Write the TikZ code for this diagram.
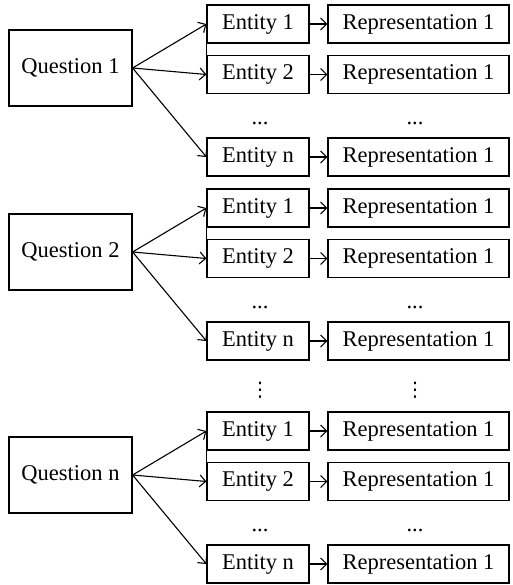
\documentclass[tikz,border=0pt]{standalone}
\usepackage{fontspec}
\setmainfont{Liberation Serif}
\newfontfamily\dvfont{DejaVu Sans}
\usetikzlibrary{arrows.meta}
\begin{document}
\begin{tikzpicture}[x=1pt,y=-1pt,
  every node/.style={font=\fontsize{22.5}{27}\selectfont, inner sep=0pt},
  box/.style={draw, line width=1.2pt, fill=white},
  qbox/.style={box, minimum width=123pt, minimum height=76pt},
  ebox/.style={box, minimum width=102pt, minimum height=38pt},
  rbox/.style={box, minimum width=181pt, minimum height=38pt},
  arr/.style={line width=1.1pt, -{Straight Barb[length=6pt,width=12pt]}},
  link/.style={line width=1.1pt},
  vdot/.style={font=\dvfont\fontsize{20}{20}\selectfont}]
\useasboundingbox (0,0) rectangle (512,585);
\foreach \g/\o/\lab in {1/0/1, 2/184/2, 3/407/n}{
  \node[qbox] (q\g) at (70.5,68+\o) {Question \lab};
  \node[ebox] (e\g a) at (258,24+\o) {Entity 1};
  \node[ebox] (e\g b) at (258,74.5+\o) {Entity 2};
  \node[ebox] (e\g c) at (258,157+\o) {Entity n};
  \node[rbox] (r\g a) at (418.5,24+\o) {Representation 1};
  \node[rbox] (r\g b) at (418.5,74.5+\o) {Representation 1};
  \node[rbox] (r\g c) at (418.5,157+\o) {Representation 1};
  \node (d\g a) at (260,123+\o) {...};
  \node (d\g b) at (415,123+\o) {...};
  \draw[arr] (q\g.east) -- (e\g a.west);
  \draw[arr] (q\g.east) -- (e\g b.west);
  \draw[arr] (q\g.east) -- (e\g c.west);
  \draw[link] (e\g a.south west) -- (e\g b.north west);
  \draw[arr] (e\g a) -- (r\g a);
  \draw[arr] (e\g b) -- (r\g b);
  \draw[arr] (e\g c) -- (r\g c);
}
\node[vdot] (va) at (260,390) {⋮};
\node[vdot] (vb) at (415,390) {⋮};
\end{tikzpicture}
\end{document}
